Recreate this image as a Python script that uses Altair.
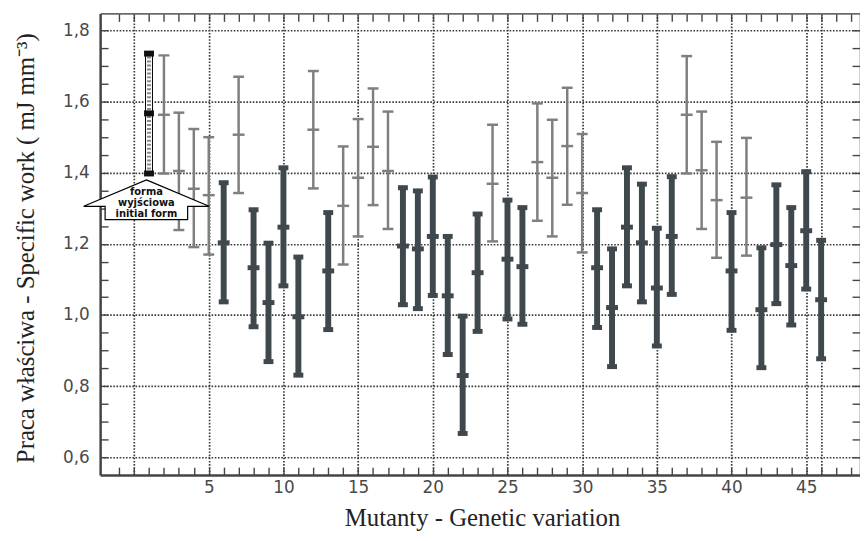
import altair as alt
import pandas as pd

W, H = 767, 466

# ---- data ----
gray_x = [2, 3, 4, 5, 7, 12, 14, 15, 16, 17, 24, 27, 28, 29, 30, 37, 38, 39, 41]
gray_lo = [1.398, 1.239, 1.191, 1.170, 1.343, 1.356, 1.142, 1.221, 1.309, 1.242,
           1.207, 1.265, 1.221, 1.310, 1.176, 1.398, 1.242, 1.161, 1.167]
gray_mid = [1.563, 1.405, 1.355, 1.337, 1.507, 1.521, 1.307, 1.386, 1.473, 1.405,
            1.369, 1.430, 1.386, 1.475, 1.343, 1.563, 1.407, 1.323, 1.330]
gray_hi = [1.730, 1.569, 1.523, 1.500, 1.670, 1.686, 1.474, 1.551, 1.637, 1.572,
           1.535, 1.595, 1.549, 1.639, 1.509, 1.728, 1.572, 1.487, 1.498]

dark_x = [6, 8, 9, 10, 11, 13, 18, 19, 20, 21, 22, 23, 25, 26, 31, 32, 33, 34, 35, 36,
          40, 42, 43, 44, 45, 46]
dark_lo = [1.037, 0.967, 0.869, 1.082, 0.831, 0.959, 1.029, 1.018, 1.055, 0.889, 0.667,
           0.954, 0.989, 0.974, 0.965, 0.855, 1.082, 1.037, 0.913, 1.058, 0.957, 0.852,
           1.032, 0.972, 1.073, 0.877]
dark_mid = [1.203, 1.133, 1.035, 1.247, 0.995, 1.124, 1.194, 1.186, 1.221, 1.054, 0.830,
            1.119, 1.157, 1.136, 1.133, 1.021, 1.247, 1.203, 1.076, 1.221, 1.124, 1.015,
            1.198, 1.139, 1.237, 1.043]
dark_hi = [1.372, 1.296, 1.202, 1.414, 1.163, 1.288, 1.358, 1.349, 1.388, 1.221, 0.997,
           1.284, 1.323, 1.302, 1.296, 1.186, 1.414, 1.368, 1.244, 1.389, 1.288, 1.189,
           1.366, 1.302, 1.403, 1.210]

init_x = [1]
init_lo = [1.398]
init_mid = [1.567]
init_hi = [1.735]

# annotation (arrow label "initial form")
arrow_x = [0.825]
arrow_y = [1.3244]
note_text = ["forma", "wyjściowa", "initial form"]
note_x = [0.825, 0.825, 0.825]
note_y = [1.3453, 1.3146, 1.2840]

# axis tick / grid values
x_ticks = list(range(-1, 49))
y_ticks = [0.6, 0.65, 0.7, 0.75, 0.8, 0.85, 0.9, 0.95, 1.0, 1.05, 1.1, 1.15, 1.2,
           1.25, 1.3, 1.35, 1.4, 1.45, 1.5, 1.55, 1.6, 1.65, 1.7, 1.75, 1.8]
x_grid = [0, 5, 10, 15, 20, 25, 30, 35, 40, 45, 46]
y_grid = [0.6, 0.8, 1.0, 1.2, 1.4, 1.6, 1.8]

GRAY = "#7f7f7f"
DARK = "#3f484c"
FRAME = "#444444"
GRID = "#3a3a3a"

xs = alt.Scale(domain=[-1.94, 48.27], nice=False, zero=False)
ys = alt.Scale(domain=[0.55, 1.848], nice=False, zero=False)

common_tick = dict(labels=False, ticks=True, tickSize=8, tickColor=FRAME, tickWidth=1.4,
                   grid=False, title=None, domain=True)

# frames with inward ticks (axes moved to opposite side with negative offset)
ax_frame_bottom = alt.Axis(orient="top", offset=-H, values=x_ticks, domainColor=FRAME,
                           domainWidth=2.5, **common_tick)
ax_frame_top = alt.Axis(orient="bottom", offset=-H, values=x_ticks, domainColor="#6a6a6a",
                        domainWidth=1.6, **common_tick)
ay_frame_left = alt.Axis(orient="right", offset=-W, values=y_ticks, domainColor=FRAME,
                         domainWidth=2.5, **common_tick)
ay_frame_right = alt.Axis(orient="left", offset=-W, values=y_ticks, domainColor="#6a6a6a",
                          domainWidth=1.6, **common_tick)

ax_labels = alt.Axis(
    orient="bottom", values=x_grid, ticks=False, tickSize=0, domain=False,
    grid=True, gridColor=GRID, gridDash=[1.6, 1.6], gridWidth=1.7, gridOpacity=1,
    labelExpr="datum.value % 5 == 0 && datum.value > 0 ? datum.label : ''",
    labelFont="DejaVu Sans", labelFontSize=17, labelColor="#4a4a4a", labelPadding=5,
    labelFlush=False, labelOverlap=False,
    title="Mutanty - Genetic variation", titleFont="Liberation Serif", titleFontSize=25,
    titleFontWeight="normal", titleColor="#222222", titleX=385.5, titleY=51,
    titleBaseline="alphabetic", titleAlign="center",
)
ay_labels = alt.Axis(
    orient="left", values=y_grid, ticks=False, tickSize=0, domain=False,
    grid=True, gridColor=GRID, gridDash=[1.6, 1.6], gridWidth=1.7, gridOpacity=1,
    labelExpr="replace(format(datum.value, '.1f'), '.', ',')",
    labelFont="DejaVu Sans", labelFontSize=17, labelColor="#4a4a4a", labelPadding=11,
    labelFlush=False, labelOverlap=False,
    title="Praca właściwa - Specific work ( mJ mm⁻³)", titleFont="Liberation Serif",
    titleFontSize=25, titleFontWeight="normal", titleColor="#222222",
    titleX=-67, titleY=236.5, titleAngle=270, titleBaseline="alphabetic",
    titleAlign="center",
)

gray_df = pd.DataFrame({"x": gray_x, "lo": gray_lo, "mid": gray_mid, "hi": gray_hi})
dark_df = pd.DataFrame({"x": dark_x, "lo": dark_lo, "mid": dark_mid, "hi": dark_hi})
init_df = pd.DataFrame({"x": init_x, "lo": init_lo, "mid": init_mid, "hi": init_hi})
arrow_df = pd.DataFrame({"x": arrow_x, "y": arrow_y})
note_df = pd.DataFrame({"x": note_x, "y": note_y, "t": note_text})


def X(field, axis=None):
    return alt.X(field, scale=xs, axis=axis)


def Y(field, axis=None):
    return alt.Y(field, scale=ys, axis=axis)


g_rule = alt.Chart(gray_df).mark_rule(color=GRAY, strokeWidth=2.5).encode(
    x=X("x:Q", ax_frame_bottom), y=Y("lo:Q", ay_frame_left), y2="hi:Q")
g_caps = alt.Chart(gray_df).transform_fold(["lo", "hi"], as_=["k", "v"]).mark_tick(
    orient="horizontal", size=11, thickness=2.5, color=GRAY, opacity=1).encode(
    x=X("x:Q", ax_frame_top), y=Y("v:Q", ay_frame_right))
g_mid = alt.Chart(gray_df).mark_tick(
    orient="horizontal", size=12, thickness=2.5, color=GRAY, opacity=1).encode(
    x=X("x:Q", ax_labels), y=Y("mid:Q", ay_labels))

d_rule = alt.Chart(dark_df).mark_rule(color=DARK, strokeWidth=6).encode(
    x=X("x:Q"), y=Y("lo:Q"), y2="hi:Q")
d_caps = alt.Chart(dark_df).transform_fold(["lo", "hi"], as_=["k", "v"]).mark_tick(
    orient="horizontal", size=10, thickness=5, color=DARK, opacity=1).encode(
    x=X("x:Q"), y=Y("v:Q"))
d_mid = alt.Chart(dark_df).mark_tick(
    orient="horizontal", size=12, thickness=5, color=DARK, opacity=1).encode(
    x=X("x:Q"), y=Y("mid:Q"))

i_bar = alt.Chart(init_df).mark_bar(size=7, fill="white", stroke="black", strokeWidth=1).encode(
    x=X("x:Q"), y=Y("lo:Q"), y2="hi:Q")
i_hatch = alt.Chart(init_df).mark_rule(color="#8a8a8a", strokeWidth=4, strokeDash=[2, 2]).encode(
    x=X("x:Q"), y=Y("lo:Q"), y2="hi:Q")
i_caps = alt.Chart(init_df).transform_fold(["lo", "mid", "hi"], as_=["k", "v"]).mark_tick(
    orient="horizontal", size=10, thickness=6, color="#111111", opacity=1).encode(
    x=X("x:Q"), y=Y("v:Q"))

ARROW = "M0,-0.316 L1,0.106 L0.658,0.106 L0.658,0.32 L-0.658,0.32 L-0.658,0.106 L-1,0.106 Z"
arrow = alt.Chart(arrow_df).mark_point(
    shape=ARROW, size=16028, filled=True, fill="white", stroke="black",
    strokeWidth=1.2, opacity=1).encode(x=X("x:Q"), y=Y("y:Q"))
note = alt.Chart(note_df).mark_text(
    font="DejaVu Sans", fontWeight="bold", fontSize=10, align="center",
    baseline="middle", color="#111111").encode(x=X("x:Q"), y=Y("y:Q"), text="t:N")

chart = alt.layer(
    g_rule, g_caps, g_mid, d_rule, d_caps, d_mid, i_bar, i_hatch, i_caps, arrow, note
).resolve_axis(x="independent", y="independent").properties(
    width=W, height=H,
    autosize=alt.AutoSizeParams(type="none"),
    padding={"left": 93, "top": 3, "right": 0, "bottom": 56},
    background="white",
).configure_view(stroke=None)

chart.save("out.html", embed_options={"renderer": "svg", "actions": False})
